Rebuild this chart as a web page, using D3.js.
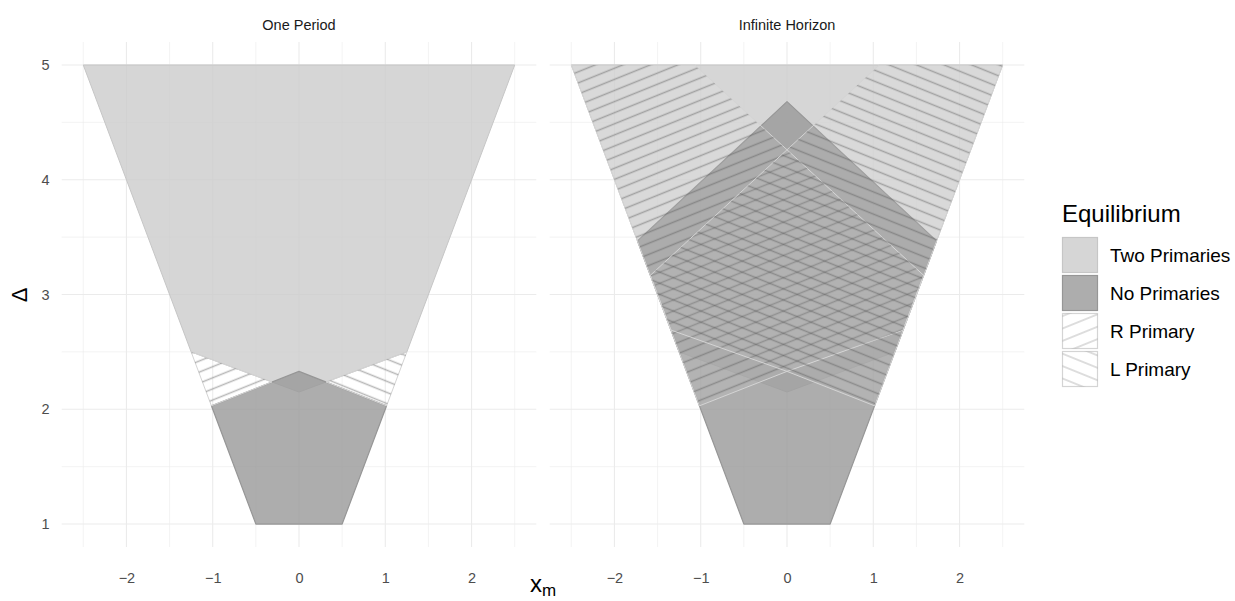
<!DOCTYPE html>
<html>
<head>
<meta charset="utf-8">
<script src="https://cdn.jsdelivr.net/npm/d3@7"></script>
<style>
  body { margin: 0; background: #fff; }
  svg { display: block; font-family: "Liberation Sans", Arial, Helvetica, sans-serif; }
</style>
</head>
<body>
<svg id="chart" width="1235" height="601"></svg>
<script>
// facets and legend levels
const facets = ['One Period', 'Infinite Horizon'];
const levels = ['Two Primaries', 'No Primaries', 'R Primary', 'L Primary'];

// region polygons [x_m, Δ]
const oneTwo = [[-2.5, 5], [2.5, 5], [1.25, 2.5], [0, 2.15], [-1.25, 2.5]];
const oneNone = [[-0.5, 1], [0.5, 1], [1.015, 2.03], [0, 2.33], [-1.015, 2.03]];
const oneR = [[-1.25, 2.5], [-1.015, 2.03], [-0.313, 2.238]];
const oneL = [[1.25, 2.5], [1.015, 2.03], [0.313, 2.238]];

const infTwo = [[-2.5, 5], [2.5, 5], [1.25, 2.5], [0, 2.15], [-1.25, 2.5]];
const infNone = [[-0.5, 1], [0.5, 1], [1.733, 3.467], [0, 4.68], [-1.733, 3.467]];
const infR = [[-2.5, 5], [-1.07, 5], [1.584, 3.167], [1.345, 2.69], [0, 2.33], [-1.015, 2.03]];
const infL = [[2.5, 5], [1.07, 5], [-1.584, 3.167], [-1.345, 2.69], [0, 2.33], [1.015, 2.03]];

const xTicks = [-2, -1, 0, 1, 2];
const yTicks = [1, 2, 3, 4, 5];
const xMinor = [-2.5, -1.5, -0.5, 0.5, 1.5, 2.5];
const yMinor = [1.5, 2.5, 3.5, 4.5];

const panels = [
  { title: facets[0], shapes: [oneTwo, oneNone, oneR, oneL] },
  { title: facets[1], shapes: [infTwo, infNone, infR, infL] }
];

const svg = d3.select('#chart');
const W = 474.6, TOP = 42, BOT = 547;
const panelLeft = [61.7, 549.7];

const x = d3.scaleLinear().domain([-2.75, 2.75]).range([0, W]);
const y = d3.scaleLinear().domain([0.8, 5.2]).range([BOT, TOP]);

// hatch patterns
const defs = svg.append('defs');
const makeStripe = (id, angle, gap, col, op, lw) => {
  const p = defs.append('pattern').attr('id', id)
    .attr('patternUnits', 'userSpaceOnUse')
    .attr('width', 20).attr('height', gap)
    .attr('patternTransform', `rotate(${angle})`);
  p.append('line').attr('x1', -2).attr('x2', 22).attr('y1', gap / 2).attr('y2', gap / 2)
    .attr('stroke', col).attr('stroke-opacity', op).attr('stroke-width', lw);
};
makeStripe('hatchR', -22, 10.3, '#555', 0.42, 1.5);
makeStripe('hatchL', 22, 10.3, '#555', 0.42, 1.5);
makeStripe('keyR', -22, 11.5, '#777', 0.35, 1.4);
makeStripe('keyL', 22, 11.5, '#777', 0.35, 1.4);

const styles = [
  { fill: '#cccccc', fo: 0.8, stroke: '#c6c6c6', sw: 1 },
  { fill: '#999999', fo: 0.8, stroke: '#969696', sw: 1.2 },
  { fill: '#ffffff', fo: 0.08, stroke: '#d4d4d4', sw: 1, pat: 'hatchR' },
  { fill: '#ffffff', fo: 0.08, stroke: '#d4d4d4', sw: 1, pat: 'hatchL' }
];

const line = d3.line().x(d => x(d[0])).y(d => y(d[1]));

panels.forEach((pn, i) => {
  const g = svg.append('g').attr('transform', `translate(${panelLeft[i]},0)`);

  // grid
  g.selectAll('.vmin').data(xMinor).join('line')
    .attr('x1', d => x(d)).attr('x2', d => x(d)).attr('y1', TOP).attr('y2', BOT)
    .attr('stroke', '#ebebeb').attr('stroke-width', 0.6);
  g.selectAll('.hmin').data(yMinor).join('line')
    .attr('x1', 0).attr('x2', W).attr('y1', d => y(d)).attr('y2', d => y(d))
    .attr('stroke', '#ebebeb').attr('stroke-width', 0.6);
  g.selectAll('.vmaj').data(xTicks).join('line')
    .attr('x1', d => x(d)).attr('x2', d => x(d)).attr('y1', TOP).attr('y2', BOT)
    .attr('stroke', '#ebebeb').attr('stroke-width', 1.1);
  g.selectAll('.hmaj').data(yTicks).join('line')
    .attr('x1', 0).attr('x2', W).attr('y1', d => y(d)).attr('y2', d => y(d))
    .attr('stroke', '#ebebeb').attr('stroke-width', 1.1);

  // regions
  pn.shapes.forEach((pts, k) => {
    const s = styles[k];
    g.append('path').attr('d', line(pts) + 'Z')
      .attr('fill', s.fill).attr('fill-opacity', s.fo)
      .attr('stroke', s.stroke).attr('stroke-width', s.sw).attr('stroke-linejoin', 'round');
    if (s.pat) {
      g.append('path').attr('d', line(pts) + 'Z').attr('fill', `url(#${s.pat})`);
    }
  });

  // strip title
  g.append('text').attr('x', W / 2).attr('y', 30).attr('text-anchor', 'middle')
    .attr('font-size', 14.5).attr('fill', '#1a1a1a').text(pn.title);

  // x axis
  const ax = g.append('g').attr('transform', `translate(0,${BOT})`)
    .call(d3.axisBottom(x).tickValues(xTicks).tickFormat(d3.format('d')).tickSize(0).tickPadding(26));
  ax.select('.domain').remove();
  ax.selectAll('text').attr('font-size', 14.5).attr('fill', '#4d4d4d').attr('font-family', null);

  if (i === 0) {
    const ay = g.append('g')
      .call(d3.axisLeft(y).tickValues(yTicks).tickFormat(d3.format('d')).tickSize(0).tickPadding(12));
    ay.select('.domain').remove();
    ay.selectAll('text').attr('font-size', 14.5).attr('fill', '#4d4d4d').attr('font-family', null);
  }
});

// axis titles
const xt = svg.append('text').attr('x', 543).attr('y', 592).attr('text-anchor', 'middle')
  .attr('font-size', 24).attr('fill', '#000');
xt.append('tspan').text('x');
xt.append('tspan').attr('font-size', 17).attr('dy', 4).text('m');

svg.append('text').attr('transform', 'translate(27,295) rotate(-90)')
  .attr('text-anchor', 'middle').attr('font-size', 22).attr('fill', '#000').text('Δ');

// legend
const lg = svg.append('g').attr('transform', 'translate(1062,0)');
lg.append('text').attr('x', 0).attr('y', 222).attr('font-size', 24).attr('fill', '#000').text('Equilibrium');
const keyPat = [null, null, 'keyR', 'keyL'];
levels.forEach((lv, k) => {
  const s = styles[k];
  const ky = 237 + k * 38;
  lg.append('rect').attr('x', 0.5).attr('y', ky + 0.5).attr('width', 35).attr('height', 35)
    .attr('fill', s.fill).attr('fill-opacity', s.fo)
    .attr('stroke', s.stroke).attr('stroke-width', 1.2);
  if (keyPat[k]) {
    lg.append('rect').attr('x', 0.5).attr('y', ky + 0.5).attr('width', 35).attr('height', 35)
      .attr('fill', `url(#${keyPat[k]})`);
  }
  lg.append('text').attr('x', 48).attr('y', ky + 25).attr('font-size', 19).attr('fill', '#000').text(lv);
});
</script>
</body>
</html>
